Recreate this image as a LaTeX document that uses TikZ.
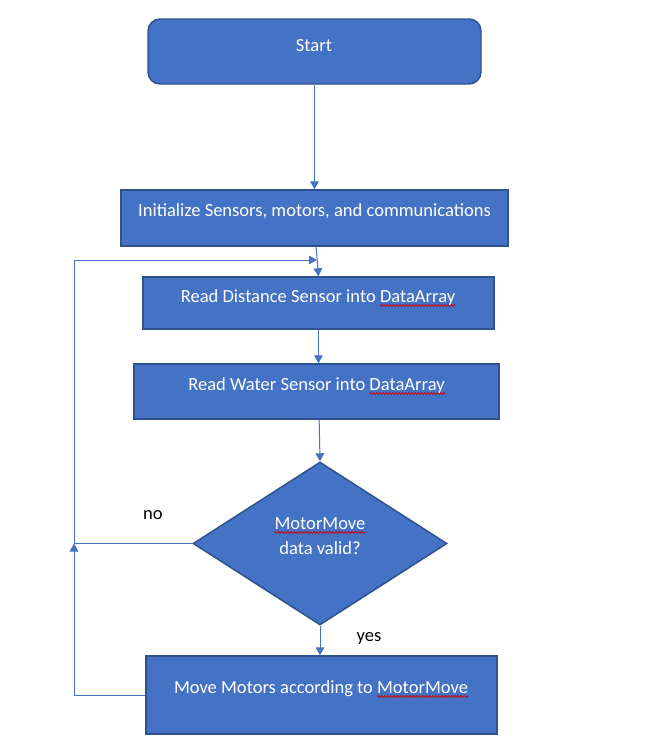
\documentclass[tikz,border=0pt]{standalone}
\usepackage{fontspec}
\setmainfont{Carlito}
\usetikzlibrary{shapes.geometric,arrows.meta,decorations.pathmorphing}
\definecolor{fillblue}{HTML}{4472C4}
\definecolor{edgeblue}{HTML}{2F528F}
\definecolor{squig}{HTML}{D40000}
\begin{document}
\begin{tikzpicture}[x=0.75pt,y=-0.75pt,
  box/.style={rectangle,draw=edgeblue,fill=fillblue,line width=1.1pt,inner sep=0pt},
  txt/.style={text=white,font=\fontsize{13.9}{16}\selectfont,inner sep=0pt,anchor=base},
  lbl/.style={text=black,font=\fontsize{13.9}{16}\selectfont,inner sep=0pt,anchor=base},
  conn/.style={draw=fillblue,line width=0.75pt},
  arr/.style={conn,-{Triangle[width=6.5pt,length=6pt]}},
  wavy/.style={draw=squig,line width=0.55pt,decorate,decoration={snake,amplitude=0.7pt,segment length=2.4pt}}]
\fill[white] (0,0) rectangle (653,740);
\useasboundingbox (0,0) rectangle (653,740);

% boxes
\node[box,rounded corners=9pt,minimum width=249.75pt,minimum height=48.75pt] (start) at (314.5,51.5) {};
\node[box,minimum width=290.25pt,minimum height=42pt] (init) at (314.5,218) {};
\node[box,minimum width=263.25pt,minimum height=39pt] (rd) at (318.5,303) {};
\node[box,minimum width=273.75pt,minimum height=41.25pt] (rw) at (316.5,391.5) {};
\node[diamond,draw=edgeblue,fill=fillblue,line width=1.1pt,inner sep=0pt,minimum width=190.5pt,minimum height=122.25pt] (dia) at (320,543.5) {};
\node[box,minimum width=263.25pt,minimum height=58.5pt] (move) at (321.5,695) {};

% texts
\node[txt] (tstart) at (314,51) {Start};
\node[txt] (tinit) at (314.5,216) {Initialize Sensors, motors, and communications};
\node[txt] (trd) at (318,302) {Read Distance Sensor into DataArray};
\node[txt,anchor=base east] (wrd) at (trd.base east) {\phantom{DataArray}};
\node[txt] (trw) at (316.5,390) {Read Water Sensor into DataArray};
\node[txt,anchor=base east] (wrw) at (trw.base east) {\phantom{DataArray}};
\node[txt] (tdia1) at (320,529) {MotorMove};
\node[txt] (tdia2) at (320,554) {data valid?};
\node[txt] (tmove) at (321,693) {Move Motors according to MotorMove};
\node[txt,anchor=base east] (wmove) at (tmove.base east) {\phantom{MotorMove}};

% spell-check squiggles
\draw[wavy] ([yshift=-2.6pt]wrd.base west) -- ([yshift=-2.6pt]wrd.base east);
\draw[wavy] ([yshift=-2.6pt]wrw.base west) -- ([yshift=-2.6pt]wrw.base east);
\draw[wavy] ([yshift=-2.6pt]tdia1.base west) -- ([yshift=-2.6pt]tdia1.base east);
\draw[wavy] ([yshift=-2.6pt]wmove.base west) -- ([yshift=-2.6pt]wmove.base east);

% labels
\node[lbl] (no) at (153,519) {no};
\node[lbl] (yes) at (369,641) {yes};

% connectors
\coordinate (left) at (74,0);
\coordinate (join) at (317,260);
\draw[arr] (start.south) -- (init.north);
\draw[arr] ([xshift=1.2pt]init.south) -- (rd.north);
\draw[arr] (rd.south) -- (rd.south |- rw.north);
\draw[arr] ([xshift=2pt]rw.south) -- (dia.north);
\draw[arr] (dia.south) -- (dia.south |- move.north);
\draw[arr] (dia.west) -- (dia.west -| left) |- (join);
\draw[arr] (move.west) -| (dia.west -| left);
\end{tikzpicture}
\end{document}
